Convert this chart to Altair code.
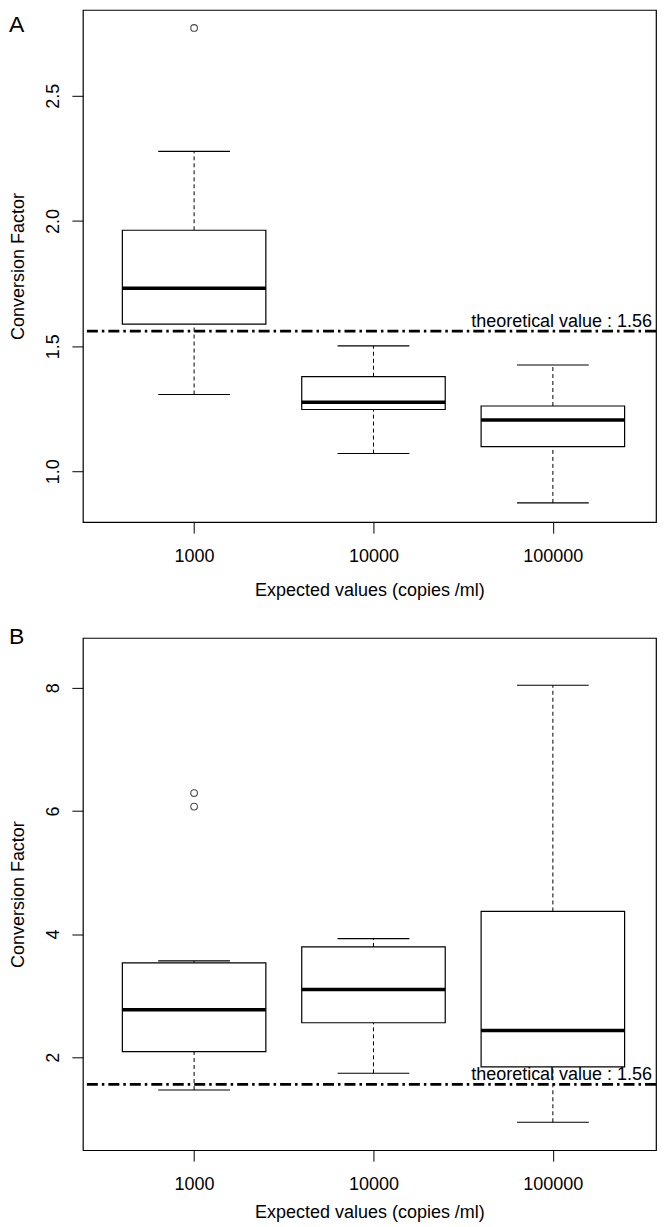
import altair as alt
import pandas as pd

# ---------------- data ----------------
categories = ["1000", "10000", "100000"]
theoretical = 1.56

# Panel A
a_whisker_low = [1.307, 1.071, 0.874]
a_q1 = [1.588, 1.247, 1.099]
a_median = [1.731, 1.276, 1.205]
a_q3 = [1.963, 1.378, 1.261]
a_whisker_high = [2.278, 1.501, 1.425]
a_outlier_cat = ["1000"]
a_outlier_val = [2.771]
a_ticks = [1.0, 1.5, 2.0, 2.5]

# Panel B
b_whisker_low = [1.47, 1.74, 0.945]
b_q1 = [2.092, 2.561, 1.845]
b_median = [2.773, 3.101, 2.435]
b_q3 = [3.533, 3.792, 4.368]
b_whisker_high = [3.565, 3.926, 8.04]
b_outlier_cat = ["1000", "1000"]
b_outlier_val = [6.29, 6.07]
b_ticks = [2, 4, 6, 8]

# ---------------- styling ----------------
FONT = "Liberation Sans"
W = 574
H = 513
HALF_BOX = 0.4
HALF_CAP = 0.2
XDOM = [0.38, 3.575]

label_parts = [f"datum.value == {i + 1} ? '{c}'" for i, c in enumerate(categories[:-1])]
label_expr = " : ".join(label_parts + [f"'{categories[-1]}'"])


def panel(tag, tag_y, lo, q1, med, q3, hi, ocat, oval, ydomain, yticks, yfmt, title_y):
    pos = list(range(1, len(categories) + 1))
    df = pd.DataFrame({"cat": categories, "pos": pos, "lo": lo, "q1": q1,
                       "med": med, "q3": q3, "hi": hi})
    df["left"] = df["pos"] - HALF_BOX
    df["right"] = df["pos"] + HALF_BOX
    df["cl"] = df["pos"] - HALF_CAP
    df["cr"] = df["pos"] + HALF_CAP
    odf = pd.DataFrame({"cat": ocat, "val": oval})
    odf["pos"] = odf["cat"].map({c: i + 1 for i, c in enumerate(categories)})
    ldf = pd.DataFrame({"v": [theoretical],
                        "label": [f"theoretical value : {theoretical}"]})
    tdf = pd.DataFrame({"tag": [tag]})

    xs = alt.Scale(domain=XDOM, nice=False, zero=False)
    ys = alt.Scale(domain=ydomain, nice=False, zero=False)

    xaxis = alt.Axis(values=pos, labelExpr=label_expr,
                     title="Expected values (copies /ml)",
                     tickSize=11, labelPadding=14, labelBaseline="top",
                     titleX=W / 2, titleY=title_y, titleBaseline="alphabetic",
                     titleAlign="center")
    yaxis = alt.Axis(values=yticks, format=yfmt, title="Conversion Factor",
                     labelAngle=270, labelAlign="center",
                     labelBaseline="alphabetic", labelPadding=13, tickSize=11,
                     titleAngle=270, titleX=-59, titleY=H / 2,
                     titleBaseline="alphabetic", titleAlign="center")

    def X(f):
        return alt.X(f, scale=xs, axis=xaxis)

    def Y(f):
        return alt.Y(f, scale=ys, axis=yaxis)

    base = alt.Chart(df)
    whisk_up = base.mark_rule(color="black", strokeWidth=1, strokeDash=[4, 3]).encode(
        x=X("pos:Q"), y=Y("q3:Q"), y2="hi:Q")
    whisk_dn = base.mark_rule(color="black", strokeWidth=1, strokeDash=[4, 3]).encode(
        x=X("pos:Q"), y=Y("lo:Q"), y2="q1:Q")
    cap_hi = base.mark_rule(color="black", strokeWidth=1.1).encode(
        x=X("cl:Q"), x2="cr:Q", y=Y("hi:Q"))
    cap_lo = base.mark_rule(color="black", strokeWidth=1.1).encode(
        x=X("cl:Q"), x2="cr:Q", y=Y("lo:Q"))
    box = base.mark_rect(fill="white", stroke="black", strokeWidth=1.2).encode(
        x=X("left:Q"), x2="right:Q", y=Y("q1:Q"), y2="q3:Q")
    median = base.mark_rule(color="black", strokeWidth=3.5).encode(
        x=X("left:Q"), x2="right:Q", y=Y("med:Q"))
    outl = alt.Chart(odf).mark_point(shape="circle", filled=False, color="black",
                                     size=45, strokeWidth=1.1).encode(
        x=X("pos:Q"), y=Y("val:Q"))
    hline = alt.Chart(ldf).mark_rule(color="black", strokeWidth=2.6,
                                     strokeDash=[11, 4, 2.5, 4]).encode(
        y=Y("v:Q"))
    htext = alt.Chart(ldf).mark_text(align="right", baseline="alphabetic", dy=-4,
                                     font=FONT, fontSize=18, color="black").encode(
        x=alt.value(570), y=Y("v:Q"), text="label:N")
    tagt = alt.Chart(tdf).mark_text(align="left", baseline="top",
                                    font=FONT, fontSize=23, color="black").encode(
        x=alt.value(-74), y=alt.value(tag_y), text="tag:N")

    return alt.layer(whisk_up, whisk_dn, cap_hi, cap_lo, box, median, outl,
                     hline, htext, tagt).properties(width=W, height=H)


pa = panel("A", 4, a_whisker_low, a_q1, a_median, a_q3, a_whisker_high,
           a_outlier_cat, a_outlier_val, [0.797, 2.843], a_ticks, ".1f", 73)
pb = panel("B", -12, b_whisker_low, b_q1, b_median, b_q3, b_whisker_high,
           b_outlier_cat, b_outlier_val, [0.492, 8.808], b_ticks, "d", 67)

chart = alt.vconcat(pa, pb, spacing=116, bounds="flush").properties(
    padding={"left": 0, "top": 0, "right": 0, "bottom": 0},
    background="white"
).configure_view(
    stroke="black", strokeWidth=1.2
).configure_axis(
    labelFont=FONT, titleFont=FONT, labelColor="black", titleColor="black",
    tickColor="black", tickWidth=1, grid=False, domain=False,
    labelFontSize=18, titleFontSize=18, titleFontWeight="normal"
)

chart.save("out.html", embed_options={"renderer": "svg", "actions": False})
